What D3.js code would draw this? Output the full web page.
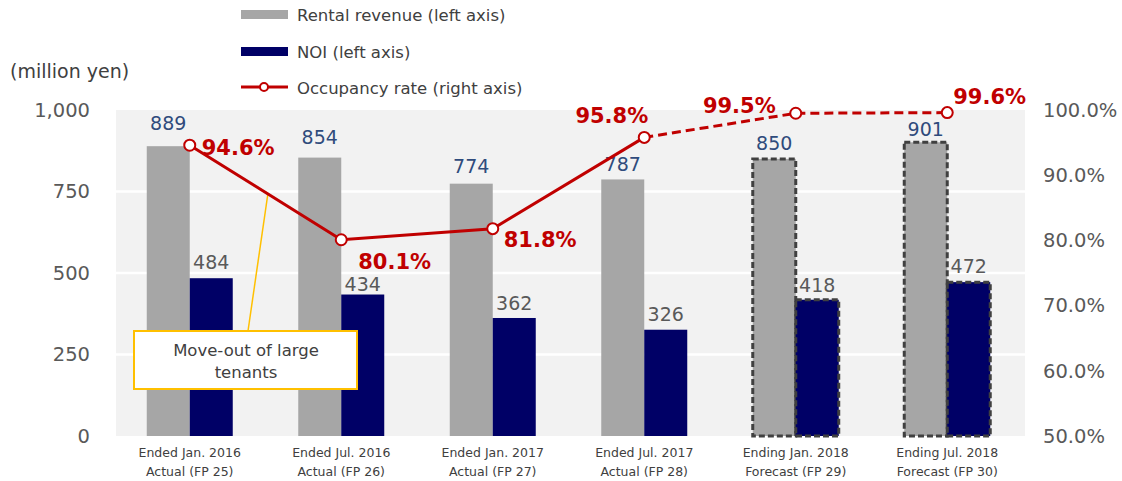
<!DOCTYPE html>
<html>
<head>
<meta charset="utf-8">
<script src="https://cdn.jsdelivr.net/npm/d3@7"></script>
<style>
  body { margin: 0; background: #fff; }
  svg { font-family: "DejaVu Sans", Verdana, sans-serif; }
</style>
</head>
<body>
<div id="chart"></div>
<script>
var width = 1122;
var height = 481;

// data
var periods = ["FP25", "FP26", "FP27", "FP28", "FP29", "FP30"];
var labelLine1 = ["Ended Jan. 2016", "Ended Jul. 2016", "Ended Jan. 2017",
                  "Ended Jul. 2017", "Ending Jan. 2018", "Ending Jul. 2018"];
var labelLine2 = ["Actual (FP 25)", "Actual (FP 26)", "Actual (FP 27)",
                  "Actual (FP 28)", "Forecast (FP 29)", "Forecast (FP 30)"];
var rentalRevenue = [889, 854, 774, 787, 850, 901];
var noi = [484, 434, 362, 326, 418, 472];
var occupancy = [94.6, 80.1, 81.8, 95.8, 99.5, 99.6];
var isForecast = [false, false, false, false, true, true];
var leftTicks = [0, 250, 500, 750, 1000];
var rightTicks = [50, 60, 70, 80, 90, 100];

// label placement (px above the bar top, and offsets for the % labels)
var rentLabelGap = [16, 14, 11, 8, 9, 6];
var noiLabelGap = [9, 4, 8, 9, 8, 9];
var pctLabelPlace = [
  {dx: 12, dy: 2, anchor: "start"},
  {dx: 17, dy: 22, anchor: "start"},
  {dx: 11, dy: 11, anchor: "start"},
  {dx: 4, dy: -22, anchor: "end"},
  {dx: -20, dy: -8, anchor: "end"},
  {dx: 6, dy: -16, anchor: "start"}
];

var plot = {left: 116, right: 1025, top: 110, bottom: 436};

var svg = d3.select("#chart")
    .append("svg")
    .attr("width", width)
    .attr("height", height);

var x = d3.scaleBand()
    .domain(periods)
    .range([114, 1023])
    .padding(0);

var inner = d3.scaleBand()
    .domain(["rent", "noi"])
    .range([x.bandwidth() / 2 - 43, x.bandwidth() / 2 + 43])
    .padding(0);

var yL = d3.scaleLinear().domain([0, 1000]).range([plot.bottom, plot.top]);
var yR = d3.scaleLinear().domain([50, 100]).range([plot.bottom, plot.top]);

// plot background
svg.append("rect")
    .attr("x", plot.left)
    .attr("y", plot.top)
    .attr("width", plot.right - plot.left)
    .attr("height", plot.bottom - plot.top)
    .attr("fill", "#f2f2f2");

// gridlines
svg.append("g")
    .selectAll("line")
    .data(leftTicks.slice(1, 4))
    .enter()
    .append("line")
    .attr("x1", plot.left)
    .attr("x2", plot.right)
    .attr("y1", function(d) { return yL(d); })
    .attr("y2", function(d) { return yL(d); })
    .attr("stroke", "#fff")
    .attr("stroke-width", 2.5);

// left axis
var leftAxis = svg.append("g")
    .attr("transform", "translate(" + (plot.left - 26) + ",0)")
    .call(d3.axisLeft(yL).tickValues(leftTicks).tickSize(0).tickPadding(0)
          .tickFormat(d3.format(",")));
leftAxis.select(".domain").remove();
leftAxis.selectAll("text")
    .attr("fill", "#595959")
    .attr("font-size", "19.5px")
    .attr("font-family", "DejaVu Sans, sans-serif");

// right axis
var rightAxis = svg.append("g")
    .attr("transform", "translate(" + (plot.right + 18) + ",0)")
    .call(d3.axisRight(yR).tickValues(rightTicks).tickSize(0).tickPadding(0)
          .tickFormat(function(d) { return d.toFixed(1) + "%"; }));
rightAxis.select(".domain").remove();
rightAxis.selectAll("text")
    .attr("fill", "#595959")
    .attr("font-size", "19.5px")
    .attr("font-family", "DejaVu Sans, sans-serif");

svg.append("text")
    .attr("x", 10)
    .attr("y", 78)
    .attr("font-size", "19px")
    .attr("fill", "#404040")
    .text("(million yen)");

// bars
var groups = svg.append("g")
    .selectAll("g")
    .data(periods)
    .enter()
    .append("g")
    .attr("transform", function(d) { return "translate(" + x(d) + ",0)"; });

groups.append("rect")
    .attr("x", inner("rent"))
    .attr("width", inner.bandwidth())
    .attr("y", function(d, i) { return yL(rentalRevenue[i]); })
    .attr("height", function(d, i) { return yL(0) - yL(rentalRevenue[i]); })
    .attr("fill", "#a6a6a6")
    .attr("stroke", function(d, i) { return isForecast[i] ? "#404040" : "none"; })
    .attr("stroke-width", 3)
    .attr("stroke-dasharray", "6,3");

groups.append("rect")
    .attr("x", inner("noi"))
    .attr("width", inner.bandwidth())
    .attr("y", function(d, i) { return yL(noi[i]); })
    .attr("height", function(d, i) { return yL(0) - yL(noi[i]); })
    .attr("fill", "#000066")
    .attr("stroke", function(d, i) { return isForecast[i] ? "#404040" : "none"; })
    .attr("stroke-width", 3)
    .attr("stroke-dasharray", "6,3");

groups.append("text")
    .attr("x", inner("rent") + inner.bandwidth() / 2)
    .attr("y", function(d, i) { return yL(rentalRevenue[i]) - rentLabelGap[i]; })
    .attr("text-anchor", "middle")
    .attr("font-size", "19px")
    .attr("fill", "#2f4b7c")
    .text(function(d, i) { return rentalRevenue[i]; });

groups.append("text")
    .attr("x", inner("noi") + inner.bandwidth() / 2)
    .attr("y", function(d, i) { return yL(noi[i]) - noiLabelGap[i]; })
    .attr("text-anchor", "middle")
    .attr("font-size", "19px")
    .attr("fill", "#595959")
    .text(function(d, i) { return noi[i]; });

// x labels
groups.append("text")
    .attr("x", x.bandwidth() / 2)
    .attr("y", 457)
    .attr("text-anchor", "middle")
    .attr("font-size", "12.5px")
    .attr("fill", "#404040")
    .text(function(d, i) { return labelLine1[i]; });

groups.append("text")
    .attr("x", x.bandwidth() / 2)
    .attr("y", 476)
    .attr("text-anchor", "middle")
    .attr("font-size", "12.5px")
    .attr("fill", "#404040")
    .text(function(d, i) { return labelLine2[i]; });

// annotation
svg.append("line")
    .attr("x1", 248).attr("y1", 331)
    .attr("x2", 268).attr("y2", 193)
    .attr("stroke", "#ffc000")
    .attr("stroke-width", 1.5);

svg.append("rect")
    .attr("x", 134).attr("y", 331)
    .attr("width", 223).attr("height", 58)
    .attr("fill", "#fff")
    .attr("stroke", "#ffc000")
    .attr("stroke-width", 2);

svg.append("text")
    .attr("x", 246).attr("y", 356)
    .attr("text-anchor", "middle")
    .attr("font-size", "16.5px")
    .attr("fill", "#404040")
    .text("Move-out of large");

svg.append("text")
    .attr("x", 246).attr("y", 378)
    .attr("text-anchor", "middle")
    .attr("font-size", "16.5px")
    .attr("fill", "#404040")
    .text("tenants");

// occupancy line
var red = "#c00000";
var line = d3.line()
    .x(function(d) { return x(d.p) + x.bandwidth() / 2; })
    .y(function(d) { return yR(d.v); });

var pts = periods.map(function(p, i) { return {p: p, v: occupancy[i], f: isForecast[i]}; });

svg.append("path")
    .datum(pts.slice(0, 4))
    .attr("d", line)
    .attr("fill", "none")
    .attr("stroke", red)
    .attr("stroke-width", 3);

svg.append("path")
    .datum(pts.slice(3))
    .attr("d", line)
    .attr("fill", "none")
    .attr("stroke", red)
    .attr("stroke-width", 3)
    .attr("stroke-dasharray", "9,5");

svg.append("g")
    .selectAll("circle")
    .data(pts)
    .enter()
    .append("circle")
    .attr("cx", function(d) { return x(d.p) + x.bandwidth() / 2; })
    .attr("cy", function(d) { return yR(d.v); })
    .attr("r", 5.5)
    .attr("fill", "#fff")
    .attr("stroke", red)
    .attr("stroke-width", 2);

svg.append("g")
    .selectAll("text")
    .data(pts)
    .enter()
    .append("text")
    .attr("x", function(d, i) { return x(d.p) + x.bandwidth() / 2 + pctLabelPlace[i].dx; })
    .attr("y", function(d, i) { return yR(d.v) + pctLabelPlace[i].dy; })
    .attr("dy", "0.35em")
    .attr("text-anchor", function(d, i) { return pctLabelPlace[i].anchor; })
    .attr("font-size", "21px")
    .attr("font-weight", "bold")
    .attr("fill", red)
    .text(function(d) { return d.v.toFixed(1) + "%"; });

// legend
var legend = svg.append("g");
legend.append("rect")
    .attr("x", 241).attr("y", 10).attr("width", 47).attr("height", 9)
    .attr("fill", "#a6a6a6");
legend.append("text")
    .attr("x", 297).attr("y", 15).attr("dy", "0.35em")
    .attr("font-size", "16.5px").attr("fill", "#404040")
    .text("Rental revenue (left axis)");
legend.append("rect")
    .attr("x", 241).attr("y", 47).attr("width", 47).attr("height", 9)
    .attr("fill", "#000066");
legend.append("text")
    .attr("x", 297).attr("y", 52).attr("dy", "0.35em")
    .attr("font-size", "16.5px").attr("fill", "#404040")
    .text("NOI (left axis)");
legend.append("line")
    .attr("x1", 241).attr("x2", 288).attr("y1", 87).attr("y2", 87)
    .attr("stroke", red).attr("stroke-width", 3);
legend.append("circle")
    .attr("cx", 264).attr("cy", 87).attr("r", 4)
    .attr("fill", "#fff").attr("stroke", red).attr("stroke-width", 2);
legend.append("text")
    .attr("x", 297).attr("y", 88).attr("dy", "0.35em")
    .attr("font-size", "16.5px").attr("fill", "#404040")
    .text("Occupancy rate (right axis)");
</script>
</body>
</html>
